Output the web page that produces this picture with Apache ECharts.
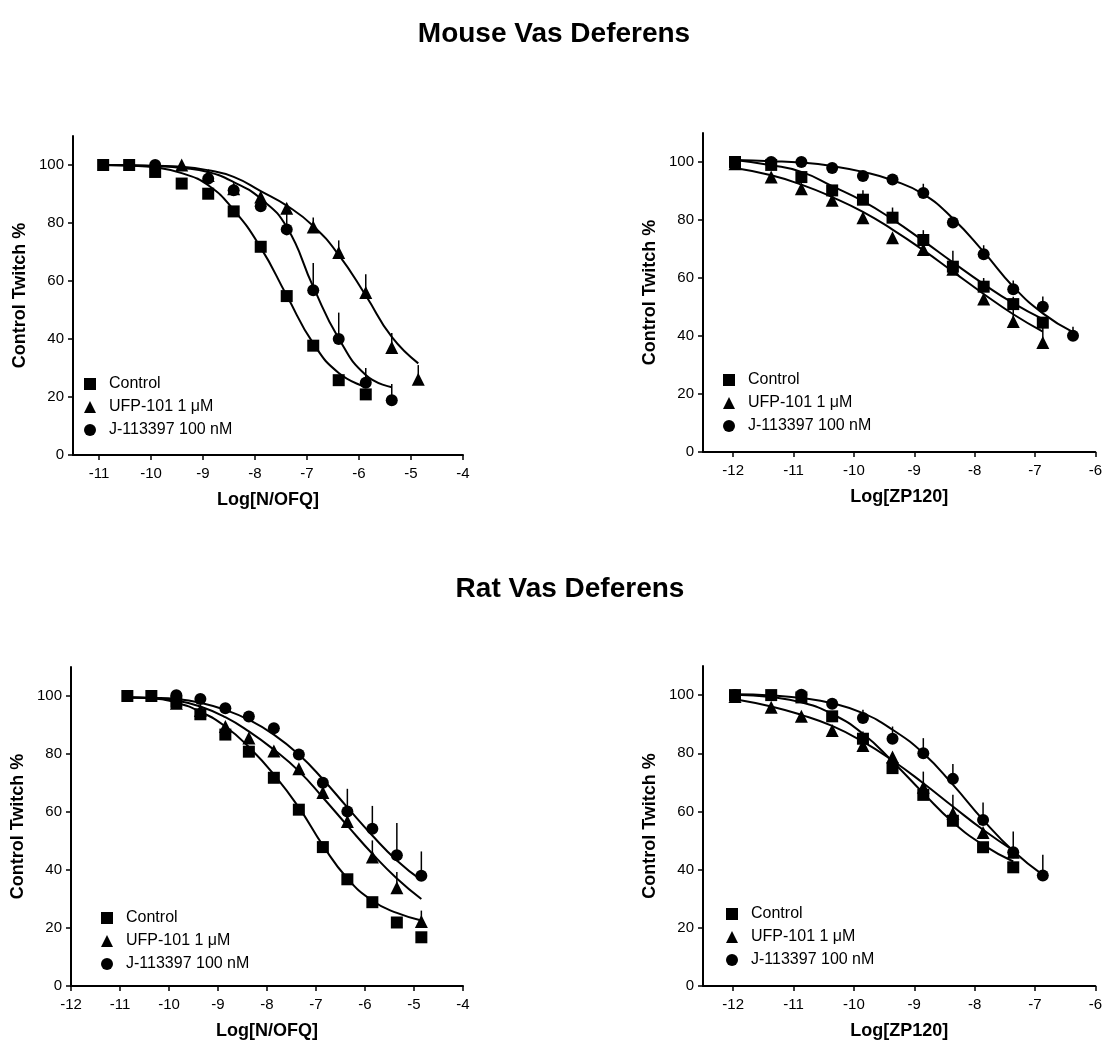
<!DOCTYPE html>
<html><head><meta charset="utf-8">
<script src="https://cdn.jsdelivr.net/npm/echarts@6/dist/echarts.min.js"></script>
<style>html,body{margin:0;padding:0;background:#fff}#c{width:1105px;height:1041px}</style>
</head><body><div id="c"></div>
<script>
const seriesNames = ['Control', 'UFP-101 1 μM', 'J-113397 100 nM'];
const yTicks = [0, 20, 40, 60, 80, 100];

// Panel 1: Mouse vas deferens, N/OFQ
const mnX = [-10.92, -10.42, -9.92, -9.41, -8.90, -8.41, -7.89, -7.39, -6.88, -6.39, -5.87, -5.37, -4.86];
const mnControl = [100, 100, 97.6, 93.6, 90.1, 84.0, 71.8, 54.8, 37.7, 25.8, 20.9, null, null];
const mnUFP = [null, null, null, 100, 96.4, 91.8, 89.0, 85.1, 78.6, 69.8, 56.0, 37.1, 26.1];
const mnJ = [null, null, 100, null, 95.3, 91.3, 85.8, 77.8, 56.8, 40.0, 24.9, 18.9, null];
const mnControlErr = [null, null, null, null, null, null, null, null, null, null, null, null, null];
const mnUFPErr = [null, null, null, null, null, null, null, null, 81.9, 74, 62.3, 42.1, 31];
const mnJErr = [null, null, null, null, null, null, null, 85, 66.2, 49.1, 30, 24.5, null];
const mnControlFit = [100, 99.8, 99.2, 97.2, 93, 84.5, 71.5, 55, 38.5, 28.3, 23.5, null, null];
const mnUFPFit = [100, 99.9, 99.7, 99.4, 98.2, 95.9, 91, 86, 79, 69, 55, 40.7, 31.6];
const mnJFit = [100, 99.9, 99.6, 99, 97.6, 94.1, 88.4, 78.6, 58, 40.2, 27.6, 23.4, null];
const mnTicks = [-11, -10, -9, -8, -7, -6, -5, -4];

// Panel 2: Mouse vas deferens, ZP120
const mzX = [-11.97, -11.37, -10.87, -10.36, -9.85, -9.36, -8.85, -8.36, -7.85, -7.36, -6.87, -6.37];
const mzControl = [100, 99, 94.8, 90.2, 87.0, 80.8, 73.1, 63.9, 57.0, 51.0, 44.6, null];
const mzUFP = [99.4, 94.8, 90.8, 86.8, 80.8, 73.9, 69.8, 63, 52.8, 45.0, 37.8, null];
const mzJ = [100, 100, 100, 97.9, 95.2, 94.0, 89.3, 79.1, 68.2, 56.1, 50.1, 40.1];
const mzControlErr = [null, null, null, null, 90.3, 84.3, 76.5, 69.4, 60, 53.5, null, null];
const mzUFPErr = [null, null, null, null, null, null, null, null, null, 51, 45, null];
const mzJErr = [null, null, null, null, null, null, 92.5, null, 71.3, 59.1, 53.6, 43.2];
const mzControlFit = [100.7, 98.9, 96.6, 91.7, 86.5, 80.2, 72.8, 65.4, 57.9, 51.3, 45.8, null];
const mzUFPFit = [97.9, 95.4, 92.2, 87.9, 82.8, 76.7, 69.6, 62.2, 54.5, 47.5, 41.5, null];
const mzJFit = [100.7, 100.3, 99.8, 98.6, 96.6, 93.7, 88.9, 80.5, 69.0, 57.0, 47.8, 41.3];
const mzTicks = [-12, -11, -10, -9, -8, -7, -6];

// Panel 3: Rat vas deferens, N/OFQ
const rnX = [-10.85, -10.36, -9.85, -9.36, -8.85, -8.37, -7.86, -7.35, -6.86, -6.36, -5.85, -5.35, -4.85];
const rnControl = [100, 100, 98, 93.7, 86.7, 80.8, 71.8, 60.8, 47.9, 36.8, 28.9, 21.9, 16.8];
const rnUFP = [null, null, 97.5, 95, 89.5, 85.5, 81, 74.9, 66.7, 56.7, 44.5, 33.9, 22.2];
const rnJ = [null, null, 100.3, 99, 95.8, 92.9, 88.9, 79.8, 70.1, 60.2, 54.2, 45.1, 38.0];
const rnControlErr = [null, null, null, null, null, null, null, null, null, null, null, null, null];
const rnUFPErr = [null, null, null, null, null, null, null, null, null, 59.9, 50.2, 39.3, 26];
const rnJErr = [null, null, null, null, null, null, null, null, 71.5, 68, 62.1, 56.2, 46.4];
const rnControlFit = [99.5, 99.2, 97.7, 94.6, 89.5, 82.4, 73, 61.6, 48.5, 37.1, 29.4, 25.2, 22.6];
const rnUFPFit = [99.5, 99.3, 98.4, 96.4, 92.7, 87.8, 81.5, 74.1, 65, 55.3, 45.6, 37.1, 30];
const rnJFit = [99.6, 99.4, 99, 97.7, 95.2, 91.8, 86.7, 79.8, 71.3, 61.6, 51.9, 43.3, 36.5];
const rnTicks = [-12, -11, -10, -9, -8, -7, -6, -5, -4];

// Panel 4: Rat vas deferens, ZP120
const rzX = [-11.97, -11.37, -10.87, -10.36, -9.85, -9.36, -8.85, -8.36, -7.86, -7.36, -6.87];
const rzControl = [100, 100, 99.2, 92.7, 85.0, 74.9, 65.7, 56.8, 47.7, 40.8, null];
const rzUFP = [99.5, 95.8, 92.7, 87.8, 82.7, 78.7, 68.3, 59.4, 52.8, 46, null];
const rzJ = [100, null, 100.1, 97.0, 92.1, 85.0, 80.0, 71.2, 57.1, 46.0, 38.0];
const rzControlErr = [null, null, null, null, null, null, null, null, null, null, null];
const rzUFPErr = [null, null, null, null, 87.5, null, 73.7, 65.7, null, null, null];
const rzJErr = [null, null, null, null, 95, 89.2, 85.2, 76.3, 63.1, 53.1, 45.1];
const rzControlFit = [100.1, 99.3, 97.5, 93.5, 86.7, 77.2, 66.3, 56.3, 48.5, 42.8, null];
const rzUFPFit = [98.6, 96.1, 93.2, 89.4, 84, 77.5, 69.7, 61.7, 53.7, 46.6, null];
const rzJFit = [100.3, 99.9, 99, 97.2, 93.8, 88.1, 80, 69.2, 57.1, 46.4, 38.2];
const rzTicks = [-12, -11, -10, -9, -8, -7, -6];

const FONT = '"Liberation Sans", Arial, sans-serif';
const symbols = ['rect', 'triangle', 'circle'];
const symbolSizes = [12, 13, 12];

const panels = [
  { x: mnX, vals: [mnControl, mnUFP, mnJ], errs: [mnControlErr, mnUFPErr, mnJErr], fits: [mnControlFit, mnUFPFit, mnJFit],
    ticks: mnTicks, min: -11.5, max: -4, xName: 'Log[N/OFQ]',
    grid: { left: 73, top: 136, width: 390, height: 319 }, legend: { left: 84, top: 376 } },
  { x: mzX, vals: [mzControl, mzUFP, mzJ], errs: [mzControlErr, mzUFPErr, mzJErr], fits: [mzControlFit, mzUFPFit, mzJFit],
    ticks: mzTicks, min: -12.5, max: -6, xName: 'Log[ZP120]',
    grid: { left: 703, top: 133, width: 393, height: 319 }, legend: { left: 723, top: 372 } },
  { x: rnX, vals: [rnControl, rnUFP, rnJ], errs: [rnControlErr, rnUFPErr, rnJErr], fits: [rnControlFit, rnUFPFit, rnJFit],
    ticks: rnTicks, min: -12, max: -4, xName: 'Log[N/OFQ]',
    grid: { left: 71, top: 667, width: 392, height: 319 }, legend: { left: 101, top: 910 } },
  { x: rzX, vals: [rzControl, rzUFP, rzJ], errs: [rzControlErr, rzUFPErr, rzJErr], fits: [rzControlFit, rzUFPFit, rzJFit],
    ticks: rzTicks, min: -12.5, max: -6, xName: 'Log[ZP120]',
    grid: { left: 703, top: 666, width: 393, height: 320 }, legend: { left: 726, top: 906 } }
];

const grids = [], xAxes = [], yAxes = [], series = [], legends = [];
const axisLine = { show: true, lineStyle: { color: '#000', width: 2 } };
const axisTick = { show: true, inside: false, length: 5, lineStyle: { color: '#000', width: 1.5 } };

panels.forEach((p, i) => {
  grids.push(p.grid);
  xAxes.push({
    type: 'value', gridIndex: i, min: p.min, max: p.max,
    axisLine, splitLine: { show: false },
    axisTick: Object.assign({}, axisTick, { customValues: p.ticks }),
    axisLabel: { customValues: p.ticks, color: '#000', fontSize: 15, fontFamily: FONT, margin: 11 },
    name: p.xName, nameLocation: 'middle', nameGap: 36,
    nameTextStyle: { color: '#000', fontSize: 18, fontWeight: 'bold', fontFamily: FONT }
  });
  yAxes.push({
    type: 'value', gridIndex: i, min: 0, max: 110,
    axisLine, splitLine: { show: false },
    axisTick: Object.assign({}, axisTick, { customValues: yTicks }),
    axisLabel: { customValues: yTicks, color: '#000', fontSize: 15, fontFamily: FONT, margin: 9 },
    name: 'Control Twitch %', nameLocation: 'middle', nameGap: 44,
    nameTextStyle: { color: '#000', fontSize: 18, fontWeight: 'bold', fontFamily: FONT }
  });
  // error bars (upper SEM)
  for (let s = 0; s < 3; s++) {
    const ed = [];
    p.x.forEach((xv, k) => { if (p.vals[s][k] != null && p.errs[s][k] != null) ed.push([xv, p.vals[s][k], p.errs[s][k]]); });
    series.push({
      type: 'custom', name: seriesNames[s] + ' SEM', xAxisIndex: i, yAxisIndex: i, z: 1,
      silent: true, data: ed, encode: { x: 0, y: [1, 2] },
      renderItem: (params, api) => {
        const a = api.coord([api.value(0), api.value(1)]);
        const b = api.coord([api.value(0), api.value(2)]);
        return { type: 'line', shape: { x1: a[0], y1: a[1], x2: b[0], y2: b[1] }, style: { stroke: '#000', lineWidth: 1.5 } };
      }
    });
  }
  // fitted curves
  for (let s = 0; s < 3; s++) {
    const fd = [];
    p.x.forEach((xv, k) => { if (p.fits[s][k] != null) fd.push([xv, p.fits[s][k]]); });
    series.push({
      type: 'line', name: seriesNames[s] + ' fit', xAxisIndex: i, yAxisIndex: i, z: 2,
      data: fd, showSymbol: false, symbol: 'none', smooth: 0.5,
      lineStyle: { color: '#000', width: 2 }, silent: true
    });
  }
  // markers
  for (let s = 0; s < 3; s++) {
    const md = [];
    p.x.forEach((xv, k) => { if (p.vals[s][k] != null) md.push([xv, p.vals[s][k]]); });
    series.push({
      type: 'scatter', name: seriesNames[s], xAxisIndex: i, yAxisIndex: i, z: 3 + s,
      data: md, symbol: symbols[s], symbolSize: symbolSizes[s],
      itemStyle: { color: '#000', opacity: 1 }
    });
  }
  legends.push({
    left: p.legend.left, top: p.legend.top, orient: 'vertical', padding: 0,
    itemWidth: 12, itemHeight: 12, itemGap: 7, selectedMode: false,
    data: seriesNames.map((n, s) => ({ name: n, icon: symbols[s] })),
    itemStyle: { color: '#000' },
    textStyle: { color: '#000', fontSize: 16, fontFamily: FONT, padding: [0, 0, 0, 8] }
  });
});

const chart = echarts.init(document.getElementById('c'), null, { renderer: 'canvas' });
chart.setOption({
  animation: false,
  backgroundColor: '#fff',
  title: [
    { text: 'Mouse Vas Deferens', left: 549, top: 15, textAlign: 'center',
      textStyle: { fontSize: 28, fontWeight: 'bold', color: '#000', fontFamily: FONT } },
    { text: 'Rat Vas Deferens', left: 565, top: 570, textAlign: 'center',
      textStyle: { fontSize: 28, fontWeight: 'bold', color: '#000', fontFamily: FONT } }
  ],
  grid: grids, xAxis: xAxes, yAxis: yAxes, legend: legends, series: series
});
</script></body></html>
